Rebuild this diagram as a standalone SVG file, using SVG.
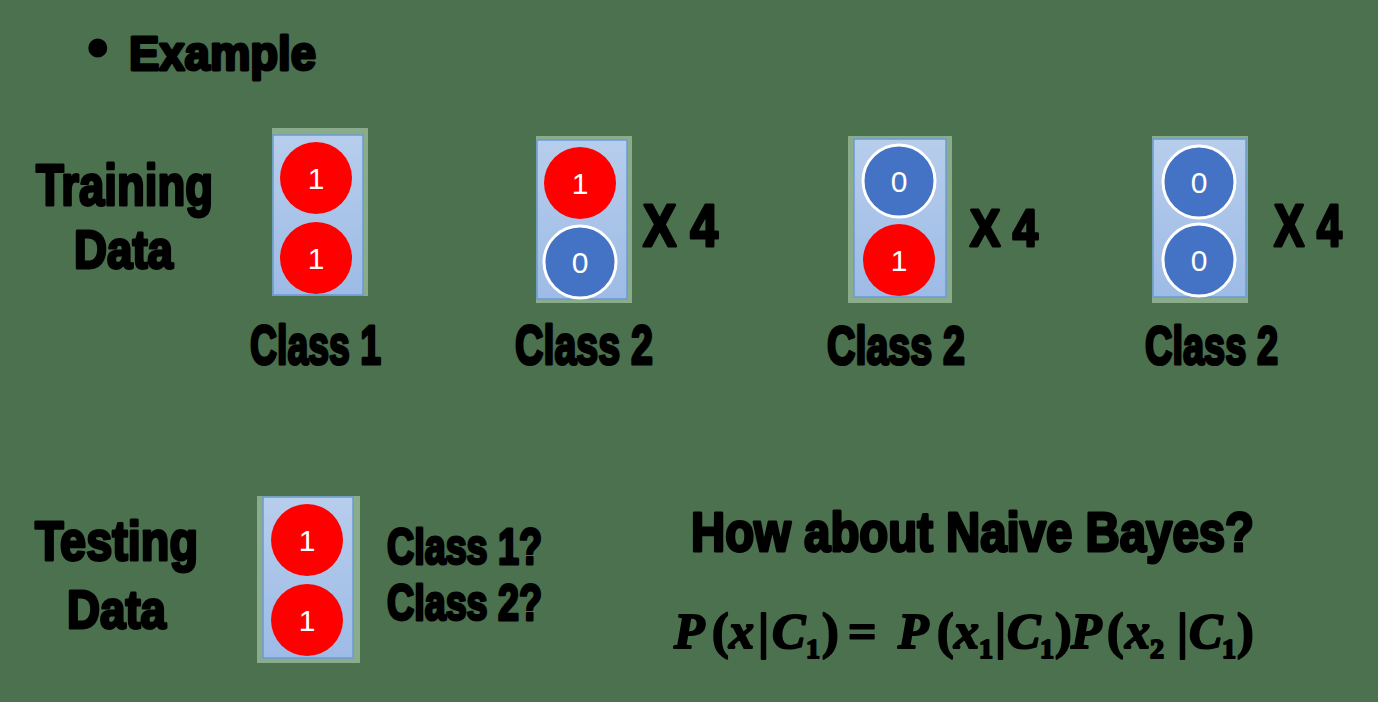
<svg xmlns="http://www.w3.org/2000/svg" width="1378" height="702" viewBox="0 0 1378 702">
<defs>
<linearGradient id="boxg" x1="0" y1="0" x2="0" y2="1">
<stop offset="0" stop-color="#b7cdec"/>
<stop offset="1" stop-color="#9dbbe6"/>
</linearGradient>
<style>
.t{font-family:"Liberation Sans",Arial,sans-serif;font-weight:bold;fill:#000;stroke:#000;stroke-width:3;stroke-linejoin:round}
.m{font-family:"Liberation Serif","Times New Roman",serif;font-style:italic;font-weight:bold;fill:#000;stroke:#000;stroke-width:2;stroke-linejoin:round;font-size:50px}
.up{font-style:normal}
.ms{font-size:28px;font-style:normal}
.halo{fill:#8aac8a}
.box{fill:url(#boxg);stroke:#6a9bd2;stroke-width:1.5}
.red{fill:#ff0000}
.blue{fill:#4472c4;stroke:#fff;stroke-width:3}
.n{font-family:"Liberation Sans",Arial,sans-serif;font-size:30px;fill:#fff;text-anchor:middle}
</style>
</defs>
<rect width="1378" height="702" fill="#4b714f"/>

<g id="title">
<text class="t" x="88" y="66" font-size="56">•</text>
<text class="t" x="129" y="70" font-size="48" textLength="187" lengthAdjust="spacingAndGlyphs">Example</text>
</g>

<g id="training-label">
<text class="t" x="36" y="205" font-size="58" textLength="177" lengthAdjust="spacingAndGlyphs">Training</text>
<text class="t" x="74" y="268" font-size="54" textLength="99" lengthAdjust="spacingAndGlyphs">Data</text>
</g>

<g id="sample1">
<rect class="halo" x="272" y="128" width="96" height="168"/>
<rect class="box" x="273" y="135" width="90" height="160"/>
<circle class="red" cx="316" cy="178" r="36"/>
<text class="n" x="316" y="189">1</text>
<circle class="red" cx="316" cy="258" r="36"/>
<text class="n" x="316" y="269">1</text>
<text class="t" x="250" y="364" font-size="56" textLength="131" lengthAdjust="spacingAndGlyphs">Class 1</text>
</g>

<g id="sample2">
<rect class="halo" x="536" y="136" width="96" height="167"/>
<rect class="box" x="537" y="140" width="90" height="159"/>
<circle class="red" cx="580" cy="183" r="36"/>
<text class="n" x="580" y="194">1</text>
<circle class="blue" cx="580" cy="262" r="36"/>
<text class="n" x="580" y="273">0</text>
<text class="t" x="643" y="246" font-size="60" textLength="75" lengthAdjust="spacingAndGlyphs">X 4</text>
<text class="t" x="515" y="364" font-size="56" textLength="138" lengthAdjust="spacingAndGlyphs">Class 2</text>
</g>

<g id="sample3">
<rect class="halo" x="848" y="136" width="104" height="167"/>
<rect class="box" x="854" y="139" width="92" height="158"/>
<circle class="blue" cx="899" cy="181" r="36"/>
<text class="n" x="899" y="192">0</text>
<circle class="red" cx="899" cy="260" r="36"/>
<text class="n" x="899" y="271">1</text>
<text class="t" x="970" y="246" font-size="52" textLength="68" lengthAdjust="spacingAndGlyphs">X 4</text>
<text class="t" x="827" y="364" font-size="54" textLength="138" lengthAdjust="spacingAndGlyphs">Class 2</text>
</g>

<g id="sample4">
<rect class="halo" x="1152" y="136" width="96" height="167"/>
<rect class="box" x="1153" y="139" width="93" height="158"/>
<circle class="blue" cx="1199" cy="182" r="36"/>
<text class="n" x="1199" y="193">0</text>
<circle class="blue" cx="1199" cy="260" r="36"/>
<text class="n" x="1199" y="271">0</text>
<text class="t" x="1274" y="246" font-size="60" textLength="68" lengthAdjust="spacingAndGlyphs">X 4</text>
<text class="t" x="1145" y="364" font-size="54" textLength="133" lengthAdjust="spacingAndGlyphs">Class 2</text>
</g>

<g id="testing-label">
<text class="t" x="35" y="560" font-size="56" textLength="163" lengthAdjust="spacingAndGlyphs">Testing</text>
<text class="t" x="67" y="628" font-size="54" textLength="99" lengthAdjust="spacingAndGlyphs">Data</text>
</g>

<g id="test-sample">
<rect class="halo" x="257" y="496" width="103" height="167"/>
<rect class="box" x="263" y="497" width="90" height="161"/>
<circle class="red" cx="307" cy="540" r="36"/>
<text class="n" x="307" y="551">1</text>
<circle class="red" cx="307" cy="620" r="36"/>
<text class="n" x="307" y="631">1</text>
<text class="t" x="387" y="564" font-size="50" textLength="155" lengthAdjust="spacingAndGlyphs">Class 1?</text>
<text class="t" x="387" y="620" font-size="50" textLength="155" lengthAdjust="spacingAndGlyphs">Class 2?</text>
</g>

<g id="question">
<text class="t" x="691" y="551" font-size="56" textLength="563" lengthAdjust="spacingAndGlyphs">How about Naive Bayes?</text>
<text class="m"><tspan x="674" y="648">P</tspan><tspan class="up" x="712" y="648">(</tspan><tspan x="729" y="648">x</tspan><tspan class="up" x="758" y="648">|</tspan><tspan x="772" y="648">C</tspan><tspan class="ms" x="806" y="658">1</tspan><tspan class="up" x="822" y="648">)</tspan><tspan class="up" x="848" y="648">=</tspan><tspan x="898" y="648">P</tspan><tspan class="up" x="937" y="648">(</tspan><tspan x="954" y="648">x</tspan><tspan class="ms" x="979" y="658">1</tspan><tspan class="up" x="995" y="648">|</tspan><tspan x="1007" y="648">C</tspan><tspan class="ms" x="1040" y="658">1</tspan><tspan class="up" x="1055" y="648">)</tspan><tspan x="1071" y="648">P</tspan><tspan class="up" x="1107" y="648">(</tspan><tspan x="1125" y="648">x</tspan><tspan class="ms" x="1150" y="658">2</tspan><tspan class="up" x="1177" y="648">|</tspan><tspan x="1189" y="648">C</tspan><tspan class="ms" x="1222" y="658">1</tspan><tspan class="up" x="1237" y="648">)</tspan></text>
</g>
</svg>
